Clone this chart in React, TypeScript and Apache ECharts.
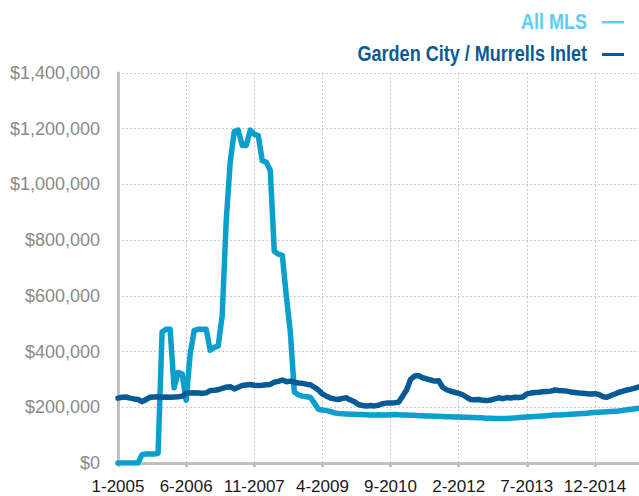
import React, { useEffect, useRef } from "react";
import * as echarts from "echarts";

const START_YEAR = 2005;
const MONTH_COUNT = 131;

const yTicks = [0, 200000, 400000, 600000, 800000, 1000000, 1200000, 1400000];

const allMls = [
  0, 0, 0, 0, 0, 0, 30000, 32000, 32000, 32000,
  35000, 470000, 480000, 480000, 270000, 325000, 320000, 225000, 390000, 475000,
  480000, 480000, 480000, 405000, 415000, 420000, 530000, 870000, 1080000, 1190000,
  1195000, 1140000, 1140000, 1195000, 1180000, 1175000, 1085000, 1080000, 1050000, 760000,
  750000, 745000, 600000, 470000, 255000, 245000, 240000, 238000, 236000, 215000,
  193000, 190000, 188000, 185000, 180000, 178000, 177000, 176000, 175000, 175000,
  174000, 174000, 173000, 172000, 172000, 173000, 172000, 172000, 173000, 174000,
  173000, 172000, 172000, 171000, 171000, 170000, 170000, 169000, 169000, 168000,
  168000, 167000, 166000, 166000, 165000, 165000, 164000, 164000, 163000, 163000,
  162000, 162000, 161000, 161000, 160000, 160000, 160000, 160000, 161000, 162000,
  163000, 164000, 165000, 166000, 167000, 168000, 169000, 170000, 171000, 172000,
  172000, 173000, 174000, 175000, 176000, 177000, 178000, 179000, 180000, 181000,
  182000, 183000, 184000, 185000, 186000, 187000, 189000, 191000, 193000, 195000,
  197000,
];

const gardenCity = [
  233000, 236000, 237000, 233000, 230000, 228000, 220000, 228000, 236000, 237000,
  238000, 236000, 237000, 236000, 237000, 238000, 240000, 250000, 251000, 252000,
  251000, 250000, 252000, 260000, 261000, 263000, 268000, 272000, 274000, 266000,
  272000, 278000, 280000, 282000, 279000, 278000, 279000, 281000, 282000, 290000,
  293000, 298000, 292000, 294000, 290000, 287000, 286000, 283000, 281000, 272000,
  262000, 248000, 240000, 233000, 230000, 228000, 232000, 234000, 226000, 220000,
  210000, 206000, 205000, 206000, 205000, 207000, 213000, 215000, 215000, 216000,
  218000, 240000, 262000, 300000, 312000, 314000, 306000, 302000, 298000, 294000,
  295000, 272000, 263000, 258000, 254000, 250000, 245000, 236000, 228000, 227000,
  228000, 225000, 224000, 226000, 230000, 234000, 231000, 235000, 233000, 236000,
  235000, 237000, 248000, 251000, 253000, 254000, 256000, 257000, 258000, 262000,
  260000, 259000, 258000, 255000, 253000, 251000, 250000, 249000, 248000, 249000,
  246000, 238000, 236000, 242000, 248000, 254000, 258000, 262000, 265000, 269000,
  273000,
];

const categories: string[] = [];
for (let i = 0; i < MONTH_COUNT; i++) {
  categories.push(`${(i % 12) + 1}-${START_YEAR + Math.floor(i / 12)}`);
}

const seriesNames = ["All MLS", "Garden City / Murrells Inlet"];
const lineColors = ["#0a9fcc", "#065a96"];
const legendColors = ["#5ccdf5", "#0b5a95"];

function fmtMoney(v: number) {
  return "$" + v.toLocaleString("en-US");
}

export default function App() {
  const ref = useRef<HTMLDivElement>(null);
  useEffect(() => {
    if (!ref.current) return;
    const chart = echarts.init(ref.current, undefined, { renderer: "svg" });
    const grid = "#cccccc";
    const legendRows = [21, 53];
    const legendGraphics = seriesNames.map((name, i) => ({
      type: "group",
      children: [
        {
          type: "text",
          x: 587,
          y: legendRows[i],
          scaleX: 0.82,
          style: {
            text: name,
            fill: legendColors[i],
            font: "bold 22px 'Liberation Sans', Arial, sans-serif",
            align: "right",
            verticalAlign: "middle",
          },
        },
        {
          type: "rect",
          shape: { x: 602, y: legendRows[i], width: 22, height: i === 0 ? 2.5 : 3 },
          style: { fill: legendColors[i] },
        },
      ],
    }));
    chart.setOption({
      animation: false,
      backgroundColor: "#ffffff",
      grid: { left: 118, right: 0, top: 73, bottom: 33, containLabel: false },
      graphic: legendGraphics,
      xAxis: {
        type: "category",
        data: categories,
        boundaryGap: false,
        axisLine: { show: true, lineStyle: { color: "#c0c0c0", width: 3 } },
        axisTick: { show: true, interval: 16, length: 4, lineStyle: { color: "#c0c0c0", width: 3 } },
        axisLabel: {
          interval: 16,
          margin: 15,
          color: "#1a1a1a",
          fontSize: 17,
          fontFamily: "'Liberation Sans', Arial, sans-serif",
        },
        splitLine: { show: true, interval: 16, lineStyle: { color: grid, type: [2, 2], width: 1 } },
      },
      yAxis: {
        type: "value",
        min: yTicks[0],
        max: yTicks[yTicks.length - 1],
        interval: yTicks[1] - yTicks[0],
        axisLine: { show: true, lineStyle: { color: "#c0c0c0", width: 3 } },
        axisTick: { show: false },
        axisLabel: {
          margin: 18,
          color: "#8a8a8a",
          fontSize: 18,
          fontFamily: "'Liberation Sans', Arial, sans-serif",
          formatter: (v: number) => fmtMoney(v),
        },
        splitLine: { show: true, lineStyle: { color: grid, type: [2, 2], width: 1 } },
      },
      series: [
        {
          name: seriesNames[0],
          type: "line",
          data: allMls,
          showSymbol: false,
          symbol: "none",
          lineStyle: { color: lineColors[0], width: 5.5, cap: "round", join: "round" },
          itemStyle: { color: lineColors[0] },
          z: 2,
        },
        {
          name: seriesNames[1],
          type: "line",
          data: gardenCity,
          showSymbol: false,
          symbol: "none",
          lineStyle: { color: lineColors[1], width: 5.5, cap: "round", join: "round" },
          itemStyle: { color: lineColors[1] },
          z: 3,
        },
      ],
    });
    return () => chart.dispose();
  }, []);
  return (
    <div
      ref={ref}
      style={{ position: "absolute", left: 0, top: 0, width: 639, height: 496, background: "#fff" }}
    />
  );
}
